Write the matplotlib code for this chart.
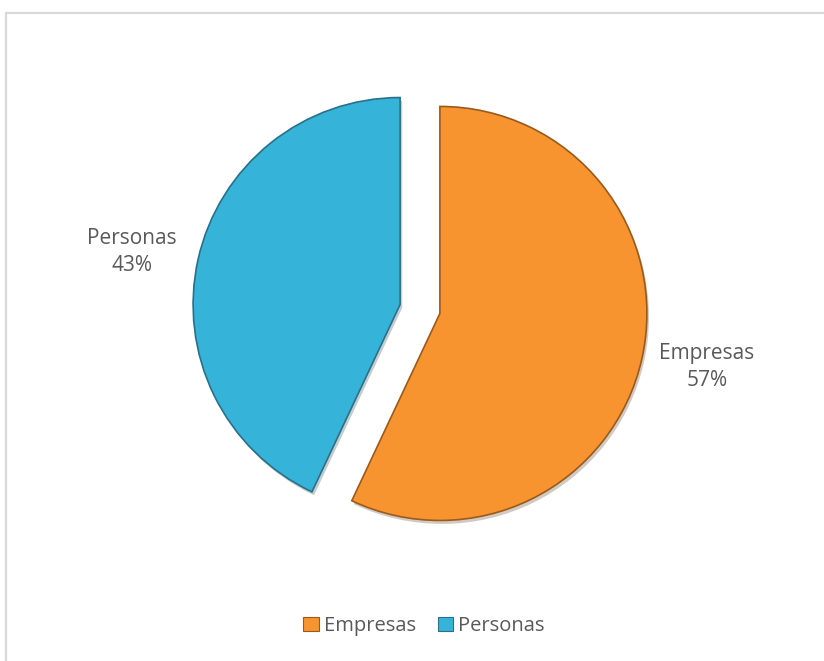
import matplotlib.pyplot as plt
import matplotlib.patheffects as pe
from matplotlib.patches import Rectangle, Patch

categories = ['Empresas', 'Personas']
shares = [57, 43]
colors = ['#F7942F', '#36B3D8']
edges = ['#9A5A1C', '#2A7088']

plt.rcParams['font.family'] = ['Open Sans', 'DejaVu Sans']

W, H = 824, 661
fig = plt.figure(figsize=(W / 100, H / 100), dpi=100)

# marco gris del area del grafico
fig.patches.append(Rectangle((6 / W, -0.1), 1.2, 1.1 - 13 / H,
                             transform=fig.transFigure, facecolor='none',
                             edgecolor='#D9D9D9', linewidth=1.6))

ax = fig.add_axes([0, 0, 1, 1])

R = 207
wedges, _ = ax.pie(shares, colors=colors, startangle=90, counterclock=False,
                   explode=[0.0985 * R, 0.0985 * R], radius=R, center=(420, H - 309),
                   wedgeprops=dict(linewidth=1.2))
for w, ec in zip(wedges, edges):
    w.set_edgecolor(ec)
    w.set_path_effects([pe.SimplePatchShadow(offset=(1.5, -2.5), alpha=0.25), pe.Normal()])

ax.set_xlim(0, W)
ax.set_ylim(0, H)
ax.set_aspect('equal')
ax.axis('off')

txt = '#595959'
ax.text(707, H - 367, 'Empresas\n57%', ha='center', va='center',
        fontsize=15, color=txt, linespacing=1.4)
ax.text(132, H - 252, 'Personas\n43%', ha='center', va='center',
        fontsize=15, color=txt, linespacing=1.4)

handles = [Patch(facecolor=c, edgecolor=e, linewidth=0.8) for c, e in zip(colors, edges)]
fig.legend(handles, categories, loc='center', bbox_to_anchor=(424 / W, 1 - 626 / H),
           ncol=2, frameon=False, fontsize=14.5, handlelength=0.75,
           handleheight=0.75, handletextpad=0.25, columnspacing=1.1,
           labelcolor=txt)

fig.savefig('out.png', dpi=100)
